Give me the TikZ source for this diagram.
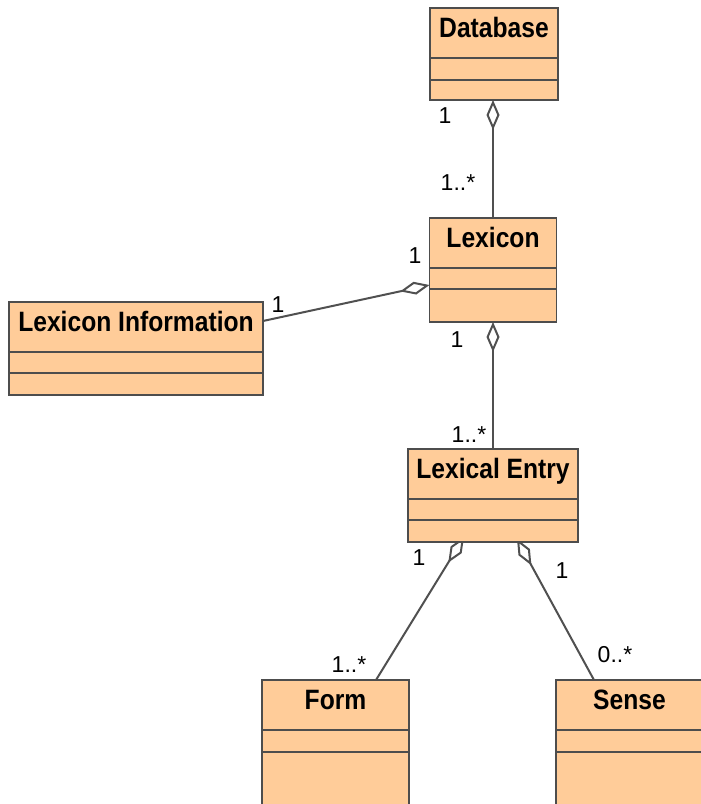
\documentclass[tikz,border=0pt]{standalone}
\usepackage{fontspec}
\setmainfont{Liberation Sans}
\newfontfamily\classfont[FakeStretch=0.88]{Liberation Sans}
\usetikzlibrary{arrows.meta,positioning,backgrounds}
\definecolor{classfill}{HTML}{FFCC99}
\definecolor{classline}{HTML}{4D4D4D}
\definecolor{linkline}{HTML}{505050}
\tikzset{
  classhead/.style={
    draw=classline,
    line width=1.6pt,
    fill=classfill,
    outer sep=0pt,
    inner xsep=0pt,
    inner ysep=0pt,
    text height=29pt,
    text depth=21pt,
    anchor=north,
    font=\classfont\bfseries\fontsize{28}{30}\selectfont
  },
  classpart/.style={
    draw=classline,
    line width=1.6pt,
    fill=classfill,
    outer sep=0pt,
    inner sep=0pt
  },
  aggregation/.style={
    draw=linkline,
    line width=2pt,
    -{Diamond[length=30pt, width=13pt, fill=white]}
  },
  mult/.style={font=\fontsize{23}{25}\selectfont, inner sep=0pt, anchor=base}
}

\begin{document}
\begin{tikzpicture}[x=1pt,y=-1pt]

\useasboundingbox (0,0) rectangle (701,804);
\clip (0,0) rectangle (701,804);

% --- Classes ---
\node[classhead, minimum width=128pt] (dbhead) at (494,8) {Database};
\node[classpart, minimum width=128pt, minimum height=22pt, below=0pt of dbhead] (dbattr) {};
\node[classpart, minimum width=128pt, minimum height=20pt, below=0pt of dbattr] (dbops) {};

\node[classhead, minimum width=127pt] (lexhead) at (493,218) {Lexicon};
\node[classpart, minimum width=127pt, minimum height=21pt, below=0pt of lexhead] (lexattr) {};
\node[classpart, minimum width=127pt, minimum height=33pt, below=0pt of lexattr] (lexops) {};

\node[classhead, minimum width=254pt] (infohead) at (136,302) {Lexicon Information};
\node[classpart, minimum width=254pt, minimum height=21pt, below=0pt of infohead] (infoattr) {};
\node[classpart, minimum width=254pt, minimum height=22pt, below=0pt of infoattr] (infoops) {};

\node[classhead, minimum width=170pt] (entryhead) at (493,449) {Lexical Entry};
\node[classpart, minimum width=170pt, minimum height=21pt, below=0pt of entryhead] (entryattr) {};
\node[classpart, minimum width=170pt, minimum height=22pt, below=0pt of entryattr] (entryops) {};

\node[classhead, minimum width=147pt] (formhead) at (335.5,680) {Form};
\node[classpart, minimum width=147pt, minimum height=22pt, below=0pt of formhead] (formattr) {};
\node[classpart, minimum width=147pt, minimum height=80pt, below=0pt of formattr] (formops) {};

\node[classhead, minimum width=147pt] (sensehead) at (629.5,680) {Sense};
\node[classpart, minimum width=147pt, minimum height=22pt, below=0pt of sensehead] (senseattr) {};
\node[classpart, minimum width=147pt, minimum height=80pt, below=0pt of senseattr] (senseops) {};

% --- Aggregations (under the boxes) ---
\begin{scope}[on background layer]
\draw[aggregation] (lexhead.north) -- (lexhead.north |- dbops.south);
\draw[aggregation] ([yshift=6pt]infohead.east) -- ([yshift=4pt]lexattr.south west);
\draw[aggregation] (entryhead.north) -- (entryhead.north |- lexops.south);
\draw[aggregation] ([xshift=40.5pt]formhead.north) -- ([xshift=-29pt,yshift=5pt]entryops.south);
\draw[aggregation] ([xshift=-35.5pt]sensehead.north) -- ([xshift=24pt,yshift=3pt]entryops.south);
\end{scope}

% --- Multiplicities ---
\node[mult] (dbone) at (445,123) {1};
\node[mult] (lexmany) at (458,190) {1..*};
\node[mult] (lexone) at (415,263) {1};
\node[mult] (infoone) at (278,312) {1};
\node[mult] (lexentone) at (457,347) {1};
\node[mult] (entrymany) at (469,442) {1..*};
\node[mult] (entryformone) at (419,565) {1};
\node[mult] (entrysenseone) at (562,578) {1};
\node[mult] (formmany) at (349,672) {1..*};
\node[mult] (sensemany) at (615,662) {0..*};

\end{tikzpicture}
\end{document}
